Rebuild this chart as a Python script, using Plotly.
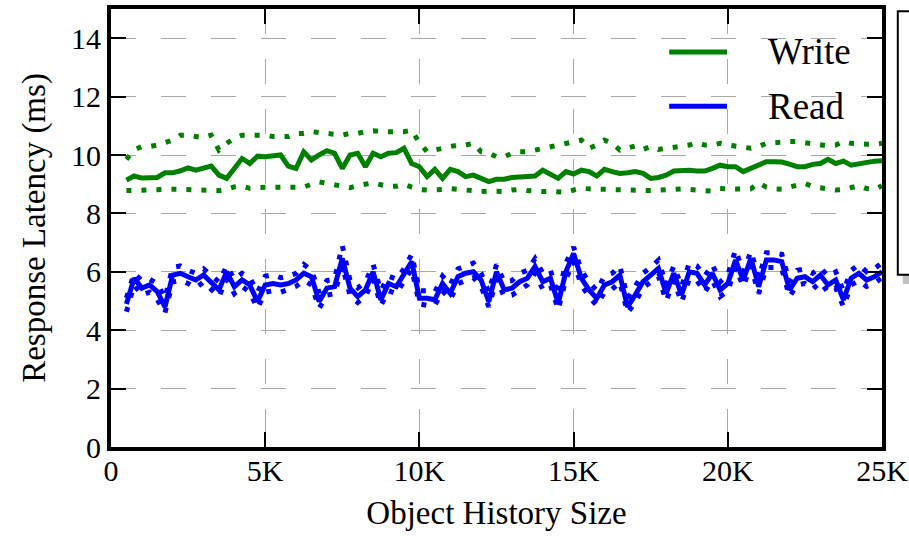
import plotly.graph_objects as go

# Object history sizes (x), sampled every 250 objects from 500 to 25000
history_size = list(range(500, 25001, 250))

x_tick_vals = [0, 5000, 10000, 15000, 20000, 25000]
x_tick_text = ["0", "5K", "10K", "15K", "20K", "25K"]
y_tick_vals = [0, 2, 4, 6, 8, 10, 12, 14]

write_median = [
    9.14, 9.28, 9.21, 9.20, 9.23, 9.39, 9.39, 9.46, 9.56, 9.48,
    9.54, 9.62, 9.31, 9.20, 9.54, 9.88, 9.71, 9.96, 9.94, 9.96,
    10.0, 9.62, 9.54, 10.11, 9.83, 10.0, 10.15, 10.06, 9.54, 10.0,
    10.06, 9.60, 10.06, 9.94, 10.06, 10.08, 10.23, 9.71, 9.60, 9.26,
    9.51, 9.20, 9.51, 9.43, 9.26, 9.31, 9.20, 9.09, 9.17,
    9.17, 9.23, 9.26, 9.28, 9.28, 9.48, 9.35, 9.20, 9.43, 9.35,
    9.48, 9.43, 9.28, 9.51, 9.43, 9.37, 9.39, 9.43, 9.37, 9.20,
    9.23, 9.31, 9.45, 9.48, 9.48, 9.45, 9.45, 9.54, 9.65, 9.60,
    9.60, 9.43, 9.54, 9.65, 9.77, 9.77, 9.76, 9.69, 9.60, 9.60,
    9.68, 9.71, 9.85, 9.71, 9.79, 9.65, 9.69, 9.77, 9.79, 9.80,
]
write_upper = [
    9.85, 10.17, 10.29, 10.29, 10.34, 10.42, 10.51, 10.68, 10.68, 10.63,
    10.60, 10.68, 10.17, 10.40, 10.57, 10.68, 10.68, 10.68, 10.68, 10.63,
    10.63, 10.63, 10.74, 10.74, 10.80, 10.76, 10.74, 10.68, 10.68, 10.74,
    10.74, 10.80, 10.83, 10.80, 10.80, 10.83, 10.80, 10.85, 10.42, 10.11,
    10.19, 10.23, 10.29, 10.34, 10.34, 10.40, 10.11, 10.06, 9.94,
    9.94, 10.06, 10.11, 10.11, 10.17, 10.23, 10.29, 10.34, 10.40, 10.46,
    10.51, 10.23, 10.34, 10.51, 10.40, 10.17, 10.23, 10.31, 10.19, 10.29,
    10.19, 10.23, 10.29, 10.29, 10.34, 10.42, 10.34, 10.34, 10.40, 10.34,
    10.29, 10.26, 10.23, 10.29, 10.40, 10.42, 10.46, 10.46, 10.46, 10.42,
    10.37, 10.34, 10.31, 10.34, 10.46, 10.40, 10.37, 10.37, 10.37, 10.40,
]
write_lower = [
    8.78, 8.78, 8.78, 8.80, 8.82, 8.82, 8.83, 8.82, 8.80, 8.78,
    8.78, 8.78, 8.78, 8.82, 8.91, 8.94, 8.86, 8.89, 8.89, 8.86,
    8.89, 8.86, 8.89, 8.90, 9.00, 9.08, 9.03, 8.98, 8.93, 8.88,
    8.95, 9.00, 9.05, 8.98, 8.92, 8.93, 9.00, 8.90, 8.82, 8.80,
    8.80, 8.82, 8.85, 8.82, 8.78, 8.75, 8.75, 8.76, 8.75,
    8.75, 8.80, 8.82, 8.78, 8.75, 8.75, 8.75, 8.72, 8.72, 8.80,
    8.86, 8.84, 8.83, 8.83, 8.83, 8.83, 8.83, 8.80, 8.80, 8.78,
    8.80, 8.82, 8.86, 8.84, 8.82, 8.80, 8.80, 8.76, 8.85, 8.83,
    8.82, 8.83, 8.84, 9.05, 8.90, 8.84, 8.83, 8.88, 8.97, 9.03,
    8.92, 8.88, 8.85, 8.80, 8.82, 8.90, 8.95, 8.85, 8.82, 8.95,
]

read_median = [
    4.90, 5.78, 5.44, 5.55, 5.32, 4.80, 5.89, 5.95, 5.83, 5.72,
    5.89, 5.66, 5.38, 6.00, 5.49, 5.72, 5.55, 4.98, 5.55, 5.60,
    5.55, 5.60, 5.72, 5.95, 5.83, 4.98, 5.44, 5.49, 6.46, 5.44,
    5.15, 5.38, 6.00, 5.04, 5.60, 5.49, 5.89, 6.35, 5.09, 5.09,
    5.04, 5.60, 5.26, 5.83, 5.95, 6.00, 5.72, 4.98, 6.00,
    5.38, 5.44, 5.66, 5.78, 6.18, 5.66, 5.78, 4.92, 6.00, 6.63,
    5.78, 5.38, 5.09, 5.55, 5.66, 5.89, 4.80, 5.21, 5.66, 5.89,
    6.12, 5.26, 5.95, 5.21, 6.00, 5.95, 5.55, 5.95, 5.38, 5.60,
    6.40, 5.72, 6.46, 5.49, 6.40, 6.40, 6.35, 5.38, 5.78, 5.83,
    5.66, 5.89, 5.55, 5.72, 5.04, 5.78, 5.95, 5.72, 5.83, 6.00,
]
read_upper = [
    5.10, 5.95, 5.70, 5.75, 5.60, 5.10, 6.15, 6.20, 6.05, 5.95,
    6.10, 5.90, 5.65, 6.20, 5.75, 5.95, 5.80, 5.30, 5.85, 5.90,
    5.80, 5.85, 5.95, 6.25, 6.05, 5.30, 5.70, 5.75, 6.90, 5.70,
    5.45, 5.65, 6.25, 5.35, 5.85, 5.75, 6.10, 6.60, 5.35, 5.35,
    5.30, 5.85, 5.55, 6.10, 6.20, 6.30, 5.95, 5.30, 6.25,
    5.65, 5.70, 5.95, 6.05, 6.45, 5.95, 6.05, 5.20, 6.30, 6.85,
    6.05, 5.65, 5.35, 5.85, 5.95, 6.20, 5.10, 5.50, 5.95, 6.15,
    6.40, 5.55, 6.20, 5.50, 6.30, 6.20, 5.85, 6.25, 5.65, 5.90,
    6.75, 6.00, 6.70, 5.80, 6.65, 6.65, 6.60, 5.65, 6.05, 6.10,
    5.95, 6.15, 5.85, 6.00, 5.35, 6.05, 6.25, 6.00, 6.10, 6.30,
]
read_lower = [
    4.63, 5.55, 5.20, 5.30, 5.05, 4.60, 5.65, 5.70, 5.60, 5.45,
    5.65, 5.40, 5.15, 5.75, 5.25, 5.50, 5.30, 4.75, 5.30, 5.35,
    5.30, 5.40, 5.50, 5.70, 5.55, 4.75, 5.20, 5.25, 6.20, 5.20,
    4.95, 5.15, 5.75, 4.85, 5.35, 5.25, 5.65, 6.10, 4.90, 4.85,
    4.85, 5.35, 5.05, 5.60, 5.70, 5.80, 5.50, 4.80, 5.75,
    5.15, 5.20, 5.40, 5.55, 5.95, 5.40, 5.55, 4.70, 5.75, 6.35,
    5.55, 5.15, 4.85, 5.30, 5.40, 5.65, 4.60, 4.95, 5.45, 5.65,
    5.85, 5.00, 5.70, 4.95, 5.75, 5.70, 5.30, 5.70, 5.15, 5.35,
    6.15, 5.50, 6.20, 5.25, 6.15, 6.15, 6.10, 5.15, 5.55, 5.60,
    5.40, 5.65, 5.30, 5.45, 4.80, 5.55, 5.70, 5.50, 5.60, 5.80,
]

GREEN = "#008000"
BLUE = "#0000FF"
DOT = "5px,10px"
FONT = "Liberation Serif"

fig = go.Figure()


def add_line(y, color, dash, name):
    fig.add_trace(go.Scatter(
        x=history_size, y=y, mode="lines", name=name,
        line=dict(color=color, width=5, dash=dash),
        showlegend=False, hoverinfo="skip",
    ))


add_line(write_upper, GREEN, DOT, "Write p95")
add_line(write_lower, GREEN, DOT, "Write p5")
add_line(write_median, GREEN, "solid", "Write")
add_line(read_upper, BLUE, DOT, "Read p95")
add_line(read_lower, BLUE, DOT, "Read p5")
add_line(read_median, BLUE, "solid", "Read")

axis_common = dict(
    showline=True, linecolor="black", linewidth=4, mirror="allticks",
    ticks="inside", ticklen=15, tickwidth=1.5, tickcolor="black",
    showgrid=True, gridcolor="#a8a8a8", gridwidth=1, griddash="25px,25px",
    zeroline=False, automargin=False,
    tickfont=dict(family=FONT, size=30, color="black"),
    title_font=dict(family=FONT, size=33, color="black"),
)

fig.update_xaxes(
    range=[0, 25000], tickvals=x_tick_vals, ticktext=x_tick_text,
    ticklabelstandoff=-6,
    title_text="Object History Size", title_standoff=16, **axis_common,
)
fig.update_yaxes(
    range=[0, 15], tickvals=y_tick_vals,
    title_text="Response Latency (ms)", title_standoff=16, **axis_common,
)

# Legend (drawn manually)
legend_items = [("Write", GREEN, 0.902), ("Read", BLUE, 0.778)]
shapes = []
annotations = []
for label, color, ypos in legend_items:
    shapes.append(dict(type="line", xref="paper", yref="paper",
                       x0=0.724, x1=0.799, y0=ypos, y1=ypos,
                       line=dict(color=color, width=5)))
    annotations.append(dict(xref="paper", yref="paper", x=0.849, y=ypos,
                            xanchor="left", yanchor="middle", showarrow=False,
                            text=label, font=dict(family=FONT, size=37, color="black")))

# Partially visible box at the right edge (with shadow)
shapes.append(dict(type="rect", xref="paper", yref="paper",
                   x0=1.027, x1=1.10, y0=0.372, y1=0.975,
                   line=dict(width=0), fillcolor="rgba(120,120,120,0.45)"))
shapes.append(dict(type="rect", xref="paper", yref="paper",
                   x0=1.0205, x1=1.10, y0=0.393, y1=0.995,
                   line=dict(color="black", width=2), fillcolor="white"))

fig.update_layout(
    width=909, height=536,
    margin=dict(l=111, r=27, t=9, b=89),
    plot_bgcolor="white", paper_bgcolor="white",
    shapes=shapes, annotations=annotations,
    showlegend=False,
    font=dict(family=FONT, color="black"),
)

fig.write_html(
    "out.html",
    config={"displayModeBar": False},
    post_script="document.body.style.margin='0px';document.body.style.overflow='hidden';",
)
